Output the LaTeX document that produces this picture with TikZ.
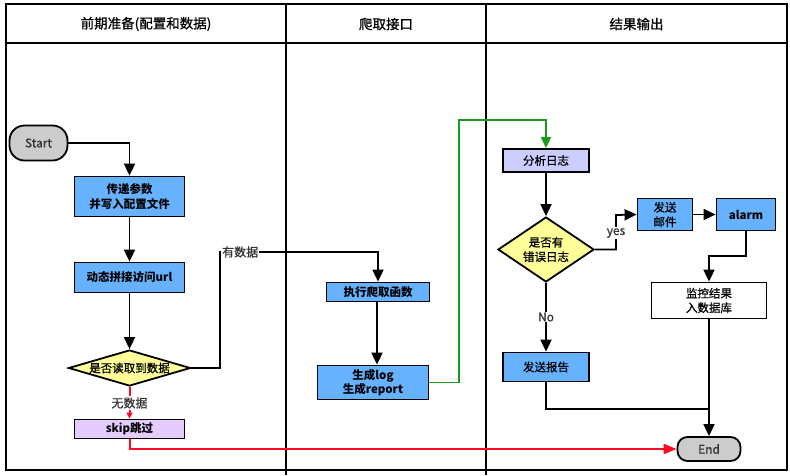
\documentclass[tikz,border=0pt]{standalone}
\usepackage{fontspec}
\setmainfont{Noto Sans CJK SC}
\newfontfamily\medfont{Noto Sans CJK SC}[FakeBold=0.8]
\usetikzlibrary{arrows.meta,shapes.geometric,calc}
\definecolor{boxblue}{HTML}{66B2FF}
\definecolor{boxlav}{HTML}{CCCCFF}
\definecolor{boxpurple}{HTML}{E5CCFF}
\definecolor{boxyellow}{HTML}{FFFF99}
\definecolor{boxgrey}{HTML}{CCCCCC}
\definecolor{flowgreen}{HTML}{1A9A1A}
\definecolor{flowred}{HTML}{FF0A23}
\definecolor{labgrey}{HTML}{333333}
\tikzset{
  frameline/.style={line width=1.8pt, black},
  base/.style={draw=black, line width=1.8pt, inner sep=0pt, align=center,
    font=\medfont\fontsize{11.5}{14.5}\selectfont, text=black},
  bluebox/.style={base, fill=boxblue, font=\fontsize{11.5}{14.5}\selectfont\bfseries},
  bluereg/.style={base, fill=boxblue},
  lavbox/.style={base, fill=boxlav},
  purplebox/.style={base, fill=boxpurple, font=\fontsize{11.5}{14.5}\selectfont\bfseries},
  whitebox/.style={base, fill=white},
  terminal/.style={base, fill=boxgrey, font=\medfont\fontsize{12}{14}\selectfont, text=labgrey},
  decision/.style={base, diamond, fill=boxyellow},
  headtext/.style={font=\medfont\fontsize{13.5}{16}\selectfont, text=black},
  lab/.style={fill=white, inner sep=1pt, font=\medfont\fontsize{12}{14}\selectfont, text=labgrey},
  conn/.style={line width=1.8pt, black, -{Triangle[length=12pt,width=11pt]}},
  plain/.style={line width=1.8pt, black},
  greenconn/.style={line width=1.8pt, flowgreen, -{Triangle[length=11pt,width=10pt]}},
  redconn/.style={line width=2pt, flowred, -{Triangle[length=13pt,width=10pt]}},
  redsmall/.style={line width=2pt, flowred, -{Triangle[length=6pt,width=6pt]}},
}
\begin{document}
\begin{tikzpicture}[x=1pt,y=-1pt]
\useasboundingbox (0,0) rectangle (790,475);
% lanes
\draw[frameline] (6,4) rectangle (787,470);
\draw[frameline] (6,43) -- (787,43);
\draw[frameline] (286,4) -- (286,475);
\draw[frameline] (486,4) -- (486,475);
\node[headtext] (h1) at (146,24) {前期准备(配置和数据)};
\node[headtext] (h2) at (386,24) {爬取接口};
\node[headtext] (h3) at (636.5,24) {结果输出};
% nodes
\node[terminal, rounded corners=15pt, minimum width=58pt, minimum height=35pt] (start) at (38.5,143) {Start};
\node[bluebox, minimum width=110pt, minimum height=40pt] (p1) at (129.5,196.5) {传递参数\\并写入配置文件};
\node[bluebox, minimum width=110pt, minimum height=30pt] (p2) at (129.5,277.5) {动态拼接访问url};
\node[decision, minimum width=122pt, minimum height=36pt,
  label={[font=\medfont\fontsize{11.5}{14}\selectfont]center:是否读取到数据}] (d1) at (129.5,368) {};
\node[purplebox, minimum width=110pt, minimum height=19pt] (skip) at (129.5,429) {skip跳过};
\node[bluebox, minimum width=103pt, minimum height=19pt] (m1) at (378,292) {执行爬取函数};
\node[bluebox, minimum width=111pt, minimum height=34pt] (m2) at (373,382.5) {生成log\\生成report};
\node[lavbox, minimum width=86pt, minimum height=23pt] (r1) at (546,160.5) {分析日志};
\node[decision, minimum width=96pt, minimum height=65pt,
  label={[align=center,font=\medfont\fontsize{11.5}{14.5}\selectfont]center:是否有\\错误日志}] (d2) at (546,249.5) {};
\node[bluereg, minimum width=55pt, minimum height=32pt] (r2) at (665,214.5) {发送\\邮件};
\node[bluebox, minimum width=59pt, minimum height=32pt] (r3) at (746,214.5) {alarm};
\node[whitebox, minimum width=115pt, minimum height=36pt] (r4) at (709,300.5) {监控结果\\入数据库};
\node[bluereg, minimum width=86pt, minimum height=29pt] (r5) at (546,367) {发送报告};
\node[terminal, rounded corners=10pt, minimum width=63pt, minimum height=24pt] (end) at (709,449) {End};
% helper coordinates
\coordinate (c1) at (220,252);
\coordinate (g1) at (459,120);
\coordinate (yx) at (616,215);
\coordinate (a1) at (746,256);
\coordinate (j1) at (709,409);
% connectors
\draw[conn] (start.east) -| (p1.north);
\draw[conn] (p1.south) -- (p2.north);
\draw[conn] (p2.south) -- (d1.north);
\draw[conn] (d1.east) -| (c1) -| (m1.north);
\node[lab, anchor=west] (l1) at (221,252) {有数据};
\draw[redsmall] (d1.south) -- (skip.north);
\node[lab] (l2) at (129.5,403) {无数据};
\draw[redconn] (skip.south) |- (end.west);
\draw[conn] (m1.south -| 377,0) -- (m2.north -| 377,0);
\draw[greenconn] (m2.east) -| (g1) -| (r1.north);
\draw[conn] (r1.south) -- (d2.north);
\draw[conn] (d2.east) -| (yx) -- (r2.west);
\node[lab] (l3) at (616,233) {yes};
\draw[conn] (r2.east) -- (r3.west);
\draw[conn] (r3.south) -- (a1) -| (r4.north);
\draw[conn] (r4.south) -- (end.north);
\draw[conn] (d2.south) -- (r5.north);
\node[lab] (l4) at (546,317) {No};
\draw[plain] (r5.south) |- (j1);
\end{tikzpicture}
\end{document}
